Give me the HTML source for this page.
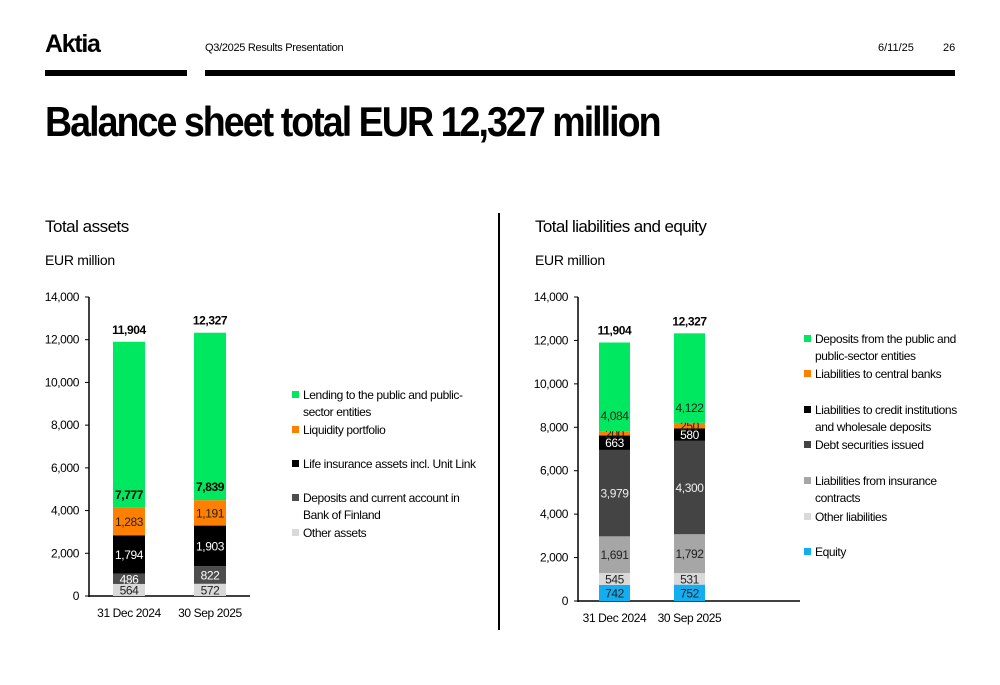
<!DOCTYPE html>
<html><head><meta charset="utf-8"><style>
body{margin:0;background:#fff;font-family:"Liberation Sans",sans-serif;}
#page{position:relative;width:1000px;height:685px;overflow:hidden;}
.t{position:absolute;white-space:nowrap;}
svg text{letter-spacing:-0.4px;}
</style></head><body>
<div id="page">
<div class="t" style="left:45px;top:30px;font-size:25px;font-weight:bold;letter-spacing:-1.3px">Aktia</div>
<div class="t" style="left:205px;top:42px;font-size:11px;letter-spacing:-0.3px">Q3/2025 Results Presentation</div>
<div class="t" style="left:878px;top:42px;font-size:11px">6/11/25</div>
<div class="t" style="left:943px;top:42px;font-size:11px">26</div>
<div style="position:absolute;left:45px;top:70px;width:142px;height:6px;background:#000"></div>
<div style="position:absolute;left:205px;top:70px;width:750px;height:6px;background:#000"></div>
<div class="t" style="left:45px;top:98px;font-size:42px;font-weight:bold;letter-spacing:-2.2px;transform:scaleX(0.895);transform-origin:0 0">Balance sheet total EUR 12,327 million</div>
<div class="t" style="left:45px;top:217px;font-size:17px;letter-spacing:-0.5px">Total assets</div>
<div class="t" style="left:45px;top:252px;font-size:14px;letter-spacing:-0.3px">EUR million</div>
<div class="t" style="left:535px;top:217px;font-size:17px;letter-spacing:-0.6px">Total liabilities and equity</div>
<div class="t" style="left:535px;top:252px;font-size:14px;letter-spacing:-0.3px">EUR million</div>
<div style="position:absolute;left:498px;top:213px;width:2px;height:417px;background:#000"></div>
<svg id="chart" width="1000" height="685" style="position:absolute;left:0;top:0"></svg>
</div>
<script>
const categories=["31 Dec 2024","30 Sep 2025"];
const yTicks=[0,2000,4000,6000,8000,10000,12000,14000];
const assetSeries=["Other assets","Deposits and current account in Bank of Finland","Life insurance assets incl. Unit Link","Liquidity portfolio","Lending to the public and public-sector entities"];
const assetDec=[564,486,1794,1283,7777];
const assetSep=[572,822,1903,1191,7839];
const assetTotals=[11904,12327];
const liabSeries=["Equity","Other liabilities","Liabilities from insurance contracts","Debt securities issued","Liabilities to credit institutions and wholesale deposits","Liabilities to central banks","Deposits from the public and public-sector entities"];
const liabDec=[742,545,1691,3979,663,200,4084];
const liabSep=[752,531,1792,4300,580,250,4122];
const liabTotals=[11904,12327];
const assetColors=["#d9d9d9","#4d4d4d","#000","#ff8000","#00e85f"];
const assetText=["#222","#fff","#fff","#222","#000"];
const liabColors=["#13aef0","#d9d9d9","#a6a6a6","#444","#000","#ff8000","#00e85f"];
const liabText=["#222","#222","#222","#eee","#fff","#222","#222"];
const svg=document.getElementById('chart');
const NS="http://www.w3.org/2000/svg";
function mk(tag,a,nm,txt){const e=document.createElementNS(NS,tag);for(const k in a)e.setAttribute(k,a[k]);


if(txt!==undefined)e.textContent=txt;svg.appendChild(e);return e;}
const fmt=v=>v.toLocaleString('en-US');
function chart(o){
 const y=v=>o.y0-(o.y0-o.y14)*v/14000;
 mk('line',{x1:o.ax,x2:o.ax,y1:o.y14,y2:o.y0+1,stroke:'#000','stroke-width':1.5},'y-axis');
 mk('line',{x1:o.ax,x2:o.axEnd,y1:o.y0,y2:o.y0,stroke:'#000','stroke-width':1.5},'x-axis');
 yTicks.forEach(t=>{mk('line',{x1:o.ax-4,x2:o.ax,y1:y(t),y2:y(t),stroke:'#000'},'y-tick');
  mk('text',{x:o.ax-10,y:y(t)+4,'text-anchor':'end','font-size':12},'y-tick-label',fmt(t));});
 o.data.forEach((vals,i)=>{let acc=0;const bx=o.bx[i];
  vals.forEach((v,j)=>{mk('rect',{x:bx,y:y(acc+v),width:o.bw,height:y(acc)-y(acc+v),fill:o.colors[j]},'bar-segment');
   const last=j===vals.length-1;
   mk('text',{x:bx+o.bw/2,y:last?y(acc)-o.lastOff:(y(acc)+y(acc+v))/2+4.5,'text-anchor':'middle','font-size':12,fill:o.text[j],'font-weight':last&&o.boldLast?'bold':'normal'},'segment-label',fmt(v));
   acc+=v;});
  mk('text',{x:bx+o.bw/2,y:y(o.totals[i])-8,'text-anchor':'middle','font-size':12,'font-weight':'bold'},'total-label',fmt(o.totals[i]));
  mk('text',{x:bx+o.bw/2,y:o.y0+21,'text-anchor':'middle','font-size':12},'x-label',categories[i]);
 });
 o.legend.forEach((L,k)=>{mk('rect',{x:o.lx,y:L.y-8,width:7,height:7,fill:o.lcol[L.i]},'legend-swatch');
  L.lines.forEach((s,m)=>mk('text',{x:o.lx+11,y:L.y+m*17,'font-size':12},'legend-entry',s));});
}
chart({ax:89,axEnd:250,y0:596,y14:297,bx:[113,194],bw:32,data:[assetDec,assetSep],totals:assetTotals,colors:assetColors,text:assetText,boldLast:true,lastOff:9,lx:292,lcol:assetColors,
 legend:[{i:4,y:399,lines:["Lending to the public and public-","sector entities"]},{i:3,y:434,lines:["Liquidity portfolio"]},{i:2,y:468,lines:["Life insurance assets incl. Unit Link"]},{i:1,y:502,lines:["Deposits and current account in","Bank of Finland"]},{i:0,y:537,lines:["Other assets"]}]});
chart({ax:578,axEnd:800,y0:601,y14:297,bx:[599,674],bw:31,data:[liabDec,liabSep],totals:liabTotals,colors:liabColors,text:liabText,boldLast:false,lastOff:11,lx:804,lcol:liabColors,
 legend:[{i:6,y:343,lines:["Deposits from the public and","public-sector entities"]},{i:5,y:378,lines:["Liabilities to central banks"]},{i:4,y:414,lines:["Liabilities to credit institutions","and wholesale deposits"]},{i:3,y:449,lines:["Debt securities issued"]},{i:2,y:485,lines:["Liabilities from insurance","contracts"]},{i:1,y:521,lines:["Other liabilities"]},{i:0,y:556,lines:["Equity"]}]});
</script>
</body></html>
